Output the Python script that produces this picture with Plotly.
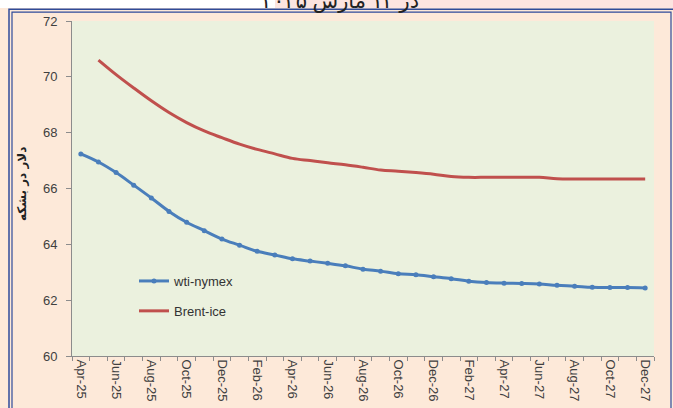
import plotly.graph_objects as go

months = ["Apr-25", "May-25", "Jun-25", "Jul-25", "Aug-25", "Sep-25", "Oct-25", "Nov-25", "Dec-25",
          "Jan-26", "Feb-26", "Mar-26", "Apr-26", "May-26", "Jun-26", "Jul-26", "Aug-26", "Sep-26",
          "Oct-26", "Nov-26", "Dec-26", "Jan-27", "Feb-27", "Mar-27", "Apr-27", "May-27", "Jun-27",
          "Jul-27", "Aug-27", "Sep-27", "Oct-27", "Nov-27", "Dec-27"]

wti_nymex = [67.24, 66.95, 66.57, 66.12, 65.66, 65.18, 64.79, 64.49, 64.19, 63.97, 63.75, 63.62,
             63.48, 63.40, 63.32, 63.23, 63.11, 63.04, 62.95, 62.91, 62.84, 62.77, 62.68, 62.63,
             62.61, 62.60, 62.58, 62.53, 62.50, 62.46, 62.45, 62.45, 62.44]

brent_months = months[1:]
brent_ice = [70.60, 70.08, 69.60, 69.14, 68.72, 68.36, 68.06, 67.82, 67.59, 67.40, 67.24, 67.08,
             67.00, 66.92, 66.85, 66.76, 66.66, 66.62, 66.57, 66.51, 66.43, 66.40, 66.40, 66.40,
             66.40, 66.40, 66.35, 66.34, 66.34, 66.34, 66.34, 66.34]

tick_labels = months[::2]
y_ticks = [60, 62, 64, 66, 68, 70, 72]

title_text = "در ۱۴ مارس ۲۰۲۵"
y_title = "دلار در بشکه"

idx = {m: i for i, m in enumerate(months)}

W, H = 673, 408
L, R, T, B = 72, 19, 21, 52
PW, PH = W - L - R, H - T - B


def px(x):
    return (x - L) / PW


def py(y):
    return (H - B - y) / PH


fig = go.Figure()
fig.add_trace(go.Scatter(
    x=[idx[m] for m in months], y=wti_nymex, name="wti-nymex", mode="lines+markers",
    line=dict(color="#4A7EBB", width=3, shape="spline"),
    marker=dict(size=5, color="#4A7EBB"), legendgroup="a"))
fig.add_trace(go.Scatter(
    x=[idx[m] for m in brent_months], y=brent_ice, name="Brent-ice", mode="lines",
    line=dict(color="#C0504D", width=3, shape="spline"), legendgroup="b"))

navy = "#2F4B9A"
shapes = [
    dict(type="rect", xref="paper", yref="paper", x0=px(0), x1=px(275), y0=py(0), y1=py(8),
         fillcolor="white", line=dict(width=0), layer="below"),
    dict(type="rect", xref="paper", yref="paper", x0=px(275), x1=px(673), y0=py(0), y1=py(8),
         fillcolor="#FCE4E0", line=dict(width=0), layer="below"),
    dict(type="rect", xref="paper", yref="paper", x0=px(9), x1=px(676), y0=py(9.3), y1=py(420),
         line=dict(color=navy, width=1.5), layer="below"),
    dict(type="rect", xref="paper", yref="paper", x0=px(12), x1=px(671), y0=py(12.2), y1=py(420),
         line=dict(color=navy, width=1.2), layer="below"),
]

fig.update_layout(
    width=W, height=H,
    margin=dict(l=L, r=R, t=T, b=B, autoexpand=False),
    paper_bgcolor="#FDE9D9",
    plot_bgcolor="#EBF1DE",
    font=dict(family="Liberation Sans, Arial", color="#404040", size=13),
    showlegend=True,
    legend=dict(x=px(134), y=py(266), xanchor="left", yanchor="top",
                bgcolor="rgba(0,0,0,0)", font=dict(size=13, color="#333333"),
                tracegroupgap=10, itemwidth=30),
    shapes=shapes,
    annotations=[
        dict(text=title_text, xref="paper", yref="paper", x=px(340), y=py(16),
             xanchor="center", yanchor="bottom", showarrow=False,
             font=dict(size=21, color="#222222", family="Noto Sans, DejaVu Sans")),
        dict(text="<b>" + y_title + "</b>", xref="paper", yref="paper", x=px(22), y=py(184),
             xanchor="center", yanchor="middle", textangle=-90, showarrow=False,
             font=dict(size=12, color="#222222", family="DejaVu Sans")),
    ],
)

fig.update_xaxes(
    range=[-0.5, len(months) - 0.5], automargin=False,
    tickmode="array", tickvals=[idx[m] for m in tick_labels], ticktext=tick_labels,
    tickangle=90, ticks="", showgrid=False, zeroline=False,
    showline=True, linecolor="#8C8C8C", linewidth=1,
    minor=dict(tickmode="array", tickvals=[i - 0.5 for i in range(len(months) + 1)],
               ticks="outside", ticklen=4, tickcolor="#8C8C8C", showgrid=False),
)
fig.update_yaxes(
    range=[60, 72], tickmode="array", tickvals=y_ticks, automargin=False,
    ticks="outside", ticklen=5, tickcolor="#8C8C8C", showgrid=False, zeroline=False,
    showline=True, linecolor="#8C8C8C", linewidth=1, ticklabelstandoff=6,
)

fig.write_html("out.html", config={"displayModeBar": False},
               post_script="document.body.style.margin='0';document.body.style.overflow='hidden';")
